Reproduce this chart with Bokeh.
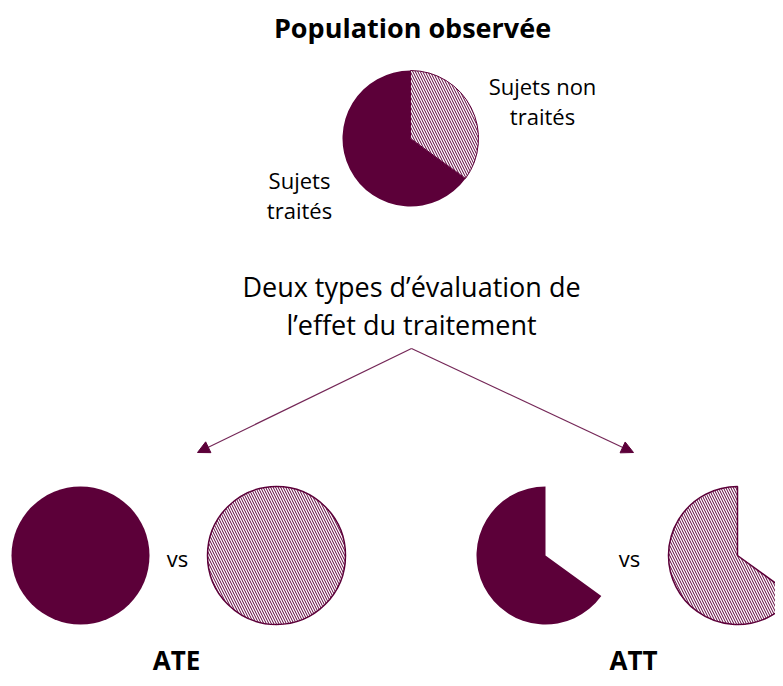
import math
from bokeh.plotting import figure
from bokeh.models import Range1d, Arrow, NormalHead
from bokeh.core.properties import value
from bokeh.embed import file_html
from bokeh.resources import INLINE

# Data
groups = ["Sujets traités", "Sujets non traités"]
shares = [65, 35]  # percent of observed population
panel_labels = ["ATE", "ATT"]
title_text = "Population observée"
subtitle_lines = ["Deux types d\u2019évaluation de", "l\u2019effet du traitement"]

MAROON = "#5c0039"
FONT = "Open Sans"

W, H = 775, 678
p = figure(width=W, height=H, output_backend="svg", toolbar_location=None,
           x_range=Range1d(0, 775), y_range=Range1d(0, 678),
           min_border=0, outline_line_color=None)
p.axis.visible = False
p.grid.visible = False

def Y(py):
    return 678 - py

# split angle: untreated share measured clockwise from 12 o'clock
split = math.radians(90 - shares[1] / 100 * 360)
top = math.radians(90)
R = 69

# Top pie
cx, cy = 410, Y(138)
p.wedge(x=[cx], y=[cy], radius=68, start_angle=top, end_angle=split,
        fill_color=MAROON, line_color=None)
p.wedge(x=[cx], y=[cy], radius=68, start_angle=split, end_angle=top,
        fill_color="white", line_color=MAROON, line_width=1,
        hatch_pattern="\\", hatch_color=MAROON, hatch_scale=5, hatch_weight=1)

# Bottom pies: ATE
p.circle(x=[80], y=[Y(555)], radius=R, fill_color=MAROON, line_color=None)
p.circle(x=[276], y=[Y(555)], radius=R, fill_color="white", line_color=MAROON,
         line_width=1.5, hatch_pattern="\\", hatch_color=MAROON,
         hatch_scale=5, hatch_weight=1)
# ATT
p.wedge(x=[545], y=[Y(555)], radius=R, start_angle=top, end_angle=split,
        fill_color=MAROON, line_color=None)
p.wedge(x=[737], y=[Y(555)], radius=R, start_angle=top, end_angle=split,
        fill_color="white", line_color=MAROON, line_width=1.5,
        hatch_pattern="\\", hatch_color=MAROON, hatch_scale=5, hatch_weight=1)

# Arrows
for x_end in (197, 633):
    p.add_layout(Arrow(x_start=411, y_start=Y(348), x_end=x_end, y_end=Y(452),
                       line_color=MAROON, line_width=1.2, line_alpha=0.85,
                       end=NormalHead(size=12, fill_color=MAROON, line_color=MAROON)))

# Texts
p.text(x=[412], y=[Y(27)], text=[title_text], text_font=value(FONT),
       text_font_style="bold", text_font_size="27px", text_align="center",
       text_baseline="middle", text_color="black")
p.text(x=[542, 542], y=[Y(85), Y(115)], text=["Sujets non", "traités"],
       text_font=value(FONT), text_font_size="22px", text_align="center",
       text_baseline="middle")
p.text(x=[299, 299], y=[Y(179), Y(209)], text=["Sujets", "traités"],
       text_font=value(FONT), text_font_size="22px", text_align="center",
       text_baseline="middle")
p.text(x=[411, 411], y=[Y(286), Y(324)], text=subtitle_lines, text_font=value(FONT),
       text_font_size="27px", text_align="center", text_baseline="middle")
p.text(x=[177, 629], y=[Y(557), Y(557)], text=["vs", "vs"], text_font=value(FONT),
       text_font_size="22px", text_align="center", text_baseline="middle")
p.text(x=[176, 633], y=[Y(677), Y(677)], text=panel_labels, text_font=value(FONT),
       text_font_style="bold", text_font_size="26px", text_align="center",
       text_baseline="bottom")

open("out.html", "w").write(file_html(p, INLINE))
